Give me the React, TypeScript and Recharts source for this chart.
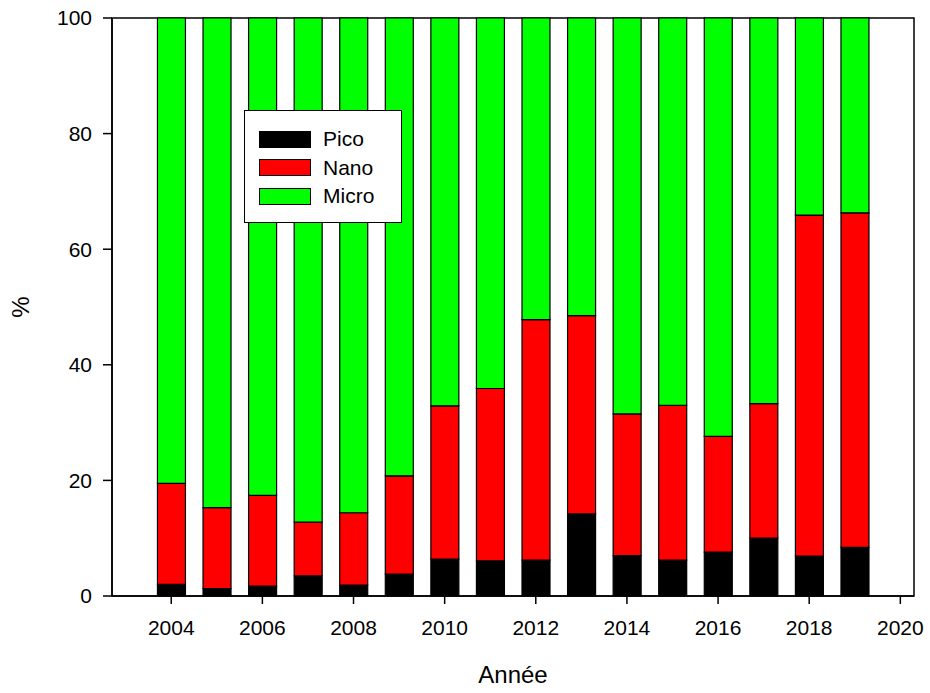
import React from 'react';
import { BarChart, Bar, XAxis, YAxis, ReferenceArea, Legend, Label } from 'recharts';

const years = [2004, 2005, 2006, 2007, 2008, 2009, 2010, 2011, 2012, 2013, 2014, 2015, 2016, 2017, 2018, 2019];
const pico = [2.0, 1.3, 1.7, 3.5, 1.9, 3.8, 6.4, 6.1, 6.2, 14.2, 7.0, 6.2, 7.6, 10.0, 6.9, 8.4];
const nano = [17.5, 14.0, 15.7, 9.3, 12.5, 17.0, 26.5, 29.8, 41.6, 34.3, 24.5, 26.8, 20.0, 23.3, 59.0, 57.9];
const micro = [80.5, 84.7, 82.6, 87.2, 85.6, 79.2, 67.1, 64.1, 52.2, 51.5, 68.5, 67.0, 72.4, 66.7, 34.1, 33.7];
const xTicks = [2004, 2006, 2008, 2010, 2012, 2014, 2016, 2018, 2020];
const yTicks = [0, 20, 40, 60, 80, 100];
const seriesNames = ['Pico', 'Nano', 'Micro'];
const seriesColors = ['#000000', '#ff0000', '#00ff00'];

const data = years.map((y, i) => ({ year: y, Pico: pico[i], Nano: nano[i], Micro: micro[i] }));

const FONT = '"Liberation Sans", Arial, Helvetica, sans-serif';

const LegendBox = () => (
  <div
    style={{
      width: 158,
      height: 113,
      boxSizing: 'border-box',
      border: '1.5px solid #000',
      background: '#fff',
      position: 'relative',
      fontFamily: FONT,
      fontSize: 21,
      color: '#000',
    }}
  >
    {seriesNames.map((n, i) => (
      <div key={n} style={{ position: 'absolute', left: 14, top: 19 + i * 28.5, height: 18, display: 'flex', alignItems: 'center' }}>
        <div style={{ width: 52, height: 17, boxSizing: 'border-box', border: '1px solid #000', background: seriesColors[i] }} />
        <span style={{ marginLeft: 12, lineHeight: '18px' }}>{n}</span>
      </div>
    ))}
  </div>
);

export default function App() {
  return (
    <div style={{ position: 'absolute', left: 0, top: 0, background: '#fff' }}>
      <BarChart
        width={930}
        height={693}
        data={data}
        margin={{ top: 18, right: 16, left: 52, bottom: 67 }}
      >
        <XAxis
          dataKey="year"
          type="number"
          domain={[2002.7, 2020.3]}
          allowDataOverflow
          ticks={xTicks}
          interval={0}
          height={30}
          tickSize={8}
          tickMargin={16}
          stroke="#000"
          strokeWidth={1.5}
          tick={{ fill: '#000', fontSize: 21, fontFamily: FONT }}
        >
          <Label
            content={({ viewBox }: any) => (
              <text
                x={viewBox.x + viewBox.width / 2}
                y={683}
                textAnchor="middle"
                fontSize={24}
                fontFamily={FONT}
                fill="#000"
              >
                Année
              </text>
            )}
          />
        </XAxis>
        <YAxis
          type="number"
          domain={[0, 100]}
          ticks={yTicks}
          width={60}
          tickSize={9}
          tickMargin={11}
          stroke="#000"
          strokeWidth={1.5}
          tick={{ fill: '#000', fontSize: 21, fontFamily: FONT }}
        >
          <Label
            content={({ viewBox }: any) => (
              <text
                x={29}
                y={viewBox.y + viewBox.height / 2}
                textAnchor="middle"
                fontSize={24}
                fontFamily={FONT}
                fill="#000"
                transform={`rotate(-90 29 ${viewBox.y + viewBox.height / 2})`}
              >
                %
              </text>
            )}
          />
        </YAxis>
        <Legend
          layout="vertical"
          align="center"
          verticalAlign="middle"
          wrapperStyle={{ left: 244, top: 110, width: 158, height: 113 }}
          content={() => <LegendBox />}
        />
        <Bar dataKey="Pico" stackId="a" fill={seriesColors[0]} stroke="#000" strokeWidth={1.2} barSize={28} isAnimationActive={false} />
        <Bar dataKey="Nano" stackId="a" fill={seriesColors[1]} stroke="#000" strokeWidth={1.2} barSize={28} isAnimationActive={false} />
        <Bar dataKey="Micro" stackId="a" fill={seriesColors[2]} stroke="#000" strokeWidth={1.2} barSize={28} isAnimationActive={false} />
        <ReferenceArea
          x1={2002.7}
          x2={2020.3}
          y1={0}
          y2={100}
          fill="none"
          stroke="#000"
          strokeWidth={1.5}
          ifOverflow="visible"
        />
      </BarChart>
    </div>
  );
}
